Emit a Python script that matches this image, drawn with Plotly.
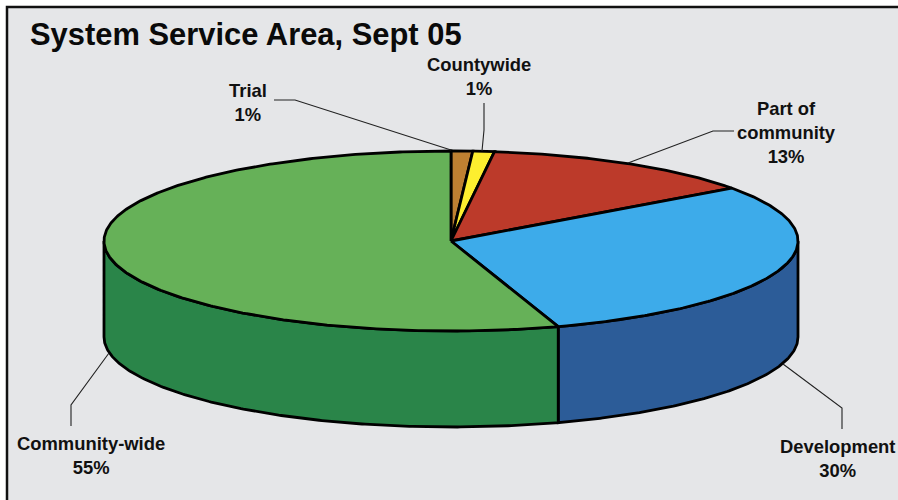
import numpy as np
import plotly.graph_objects as go

# Shares in percent, clockwise from twelve o'clock
categories = ["Trial", "Countywide", "Part of<br>community", "Development", "Community-wide"]
shares = [1, 1, 13, 30, 55]
top_colors = ["#BE8032", "#FDEE2F", "#BC3A2A", "#3DABEA", "#66B158"]
side_colors = ["#8F6025", "#BDB222", "#8C2B1F", "#2C5C98", "#2A8549"]

# Disc geometry on a pixel-sized plotting surface
CX, CY, RX, RY, DEPTH = 451, 241, 347, 90, 96
OUTLINE = 2.8
PANEL = "#E5E6E8"
FONT = "Liberation Sans"


def rim(a0, a1, drop=0.0):
    """Points on the disc rim between two clockwise angles given in degrees."""
    n = max(2, int(abs(a1 - a0) * 2) + 2)
    t = np.radians(np.linspace(a0, a1, n))
    return CX + RX * np.sin(t), CY - RY * np.cos(t) + drop


fig = go.Figure()

bounds = 3.6 * np.concatenate([[0], np.cumsum(shares)])

# Outer wall: only the part of the rim facing the viewer (90 to 270 degrees)
for lo, hi, color in zip(bounds[:-1], bounds[1:], side_colors):
    a0, a1 = max(lo, 90), min(hi, 270)
    if a1 <= a0:
        continue
    xt, yt = rim(a0, a1)
    xb, yb = rim(a1, a0, DEPTH)
    fig.add_trace(go.Scatter(
        x=np.r_[xt, xb, xt[0]], y=np.r_[yt, yb, yt[0]],
        mode="lines", fill="toself", fillcolor=color,
        line=dict(color="black", width=OUTLINE), hoverinfo="skip", showlegend=False,
    ))

# Top face wedges
for lo, hi, color, name, share in zip(bounds[:-1], bounds[1:], top_colors, categories, shares):
    xt, yt = rim(lo, hi)
    fig.add_trace(go.Scatter(
        x=np.r_[CX, xt, CX], y=np.r_[CY, yt, CY],
        mode="lines", fill="toself", fillcolor=color,
        line=dict(color="black", width=OUTLINE),
        name=name.replace("<br>", " "), text=f"{share}%", hoverinfo="name+text", showlegend=False,
    ))

# Leader lines from the labels to the disc
leaders = [
    ([274, 295, 451], [100, 100, 150]),
    ([484, 484, 482], [103, 130, 151]),
    ([734, 713, 628], [131, 131, 163]),
    ([842, 842, 783], [429, 408, 364]),
    ([71, 71, 109], [426, 405, 353]),
]
for xs, ys in leaders:
    fig.add_trace(go.Scatter(x=xs, y=ys, mode="lines", hoverinfo="skip", showlegend=False,
                             line=dict(color="#222222", width=1.1)))

# Label text positions, one per category
label_pos = [(248, 102), (479, 76), (786, 132), (837, 458), (91, 455)]
annotations = []
for c, s, (x, y) in zip(categories, shares, label_pos):
    lines = f"{c}<br>{s}%".split("<br>")
    annotations.append(dict(
        x=x, y=y, text="<br>".join(f"<b>{ln}</b>" for ln in lines), showarrow=False,
        xref="x", yref="y", align="center", xanchor="center", yanchor="middle",
        font=dict(family=FONT, size=18.4, color="#111111"),
    ))
annotations.append(dict(
    x=27.5, y=34, text="<b>System Service Area, Sept 05</b>", showarrow=False,
    xref="x", yref="y", xanchor="left", yanchor="middle",
    font=dict(family=FONT, size=30.9, color="#0A0A0A"),
))

fig.update_layout(
    width=898, height=500, margin=dict(l=0, r=0, t=0, b=0),
    paper_bgcolor="white", plot_bgcolor="white",
    xaxis=dict(range=[0, 898], visible=False, fixedrange=True),
    yaxis=dict(range=[500, 0], visible=False, fixedrange=True),
    annotations=annotations,
    shapes=[dict(type="rect", xref="x", yref="y", x0=7, y0=7, x1=905, y1=510,
                 fillcolor=PANEL, line=dict(color="#111111", width=2.5), layer="below")],
)

fig.write_html("out.html", config=dict(displayModeBar=False))
